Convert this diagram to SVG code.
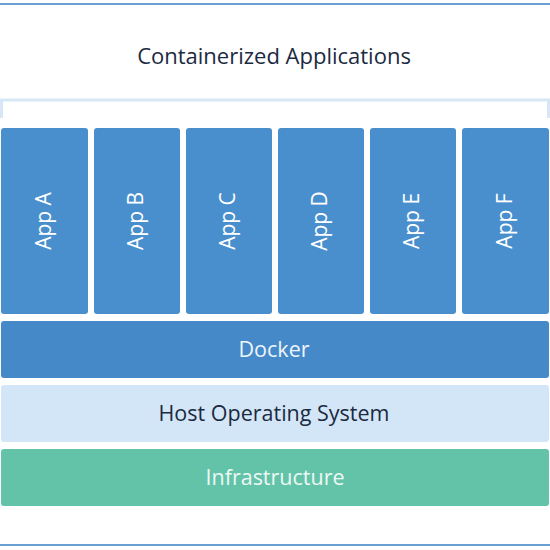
<svg xmlns="http://www.w3.org/2000/svg" width="550" height="550" viewBox="0 0 550 550">
<style>
.app rect{fill:#4a8fcd}
.app text{fill:#ffffff;font-family:"Open Sans","Liberation Sans",sans-serif;font-size:21px;text-anchor:middle}
.layer text{font-family:"Open Sans","Liberation Sans",sans-serif;font-size:21.5px;text-anchor:middle}
.title{font-family:"Open Sans","Liberation Sans",sans-serif;font-size:22px;text-anchor:middle;fill:#1b2a3f}
</style>
<rect width="550" height="550" fill="#ffffff"/>
<g id="frame">
<line x1="0" y1="4" x2="550" y2="4" stroke="#6a9fd2" stroke-width="2"/>
<line x1="0" y1="545" x2="550" y2="545" stroke="#6a9fd2" stroke-width="2"/>
<path d="M1.5,118 V100 H548.5 V118" fill="none" stroke="#d8e7f6" stroke-width="3"/>
</g>
<g id="title"><text class="title" x="274" y="64">Containerized Applications</text></g>
<g id="app-a" class="app"><rect x="1" y="128" width="87" height="186" rx="3"/><text transform="translate(44.5,221) rotate(-90)" y="6">App A</text></g>
<g id="app-b" class="app"><rect x="94" y="128" width="86" height="186" rx="3"/><text transform="translate(137,221) rotate(-90)" y="6">App B</text></g>
<g id="app-c" class="app"><rect x="186" y="128" width="86" height="186" rx="3"/><text transform="translate(229,221) rotate(-90)" y="6">App C</text></g>
<g id="app-d" class="app"><rect x="278" y="128" width="86" height="186" rx="3"/><text transform="translate(321,221) rotate(-90)" y="6">App D</text></g>
<g id="app-e" class="app"><rect x="370" y="128" width="86" height="186" rx="3"/><text transform="translate(413,221) rotate(-90)" y="6">App E</text></g>
<g id="app-f" class="app"><rect x="462" y="128" width="87" height="186" rx="3"/><text transform="translate(505.5,221) rotate(-90)" y="6">App F</text></g>
<g id="docker" class="layer"><rect x="1" y="321" width="548" height="57" rx="3" fill="#4589c8"/><text x="274" y="357" fill="#eef5fc">Docker</text></g>
<g id="host-os" class="layer"><rect x="1" y="385" width="548" height="57" rx="3" fill="#d3e6f8"/><text x="274" y="421" fill="#1b2a3f">Host Operating System</text></g>
<g id="infrastructure" class="layer"><rect x="1" y="449" width="548" height="57" rx="3" fill="#62c3a8"/><text x="275" y="485" fill="#eef8f4">Infrastructure</text></g>
</svg>
